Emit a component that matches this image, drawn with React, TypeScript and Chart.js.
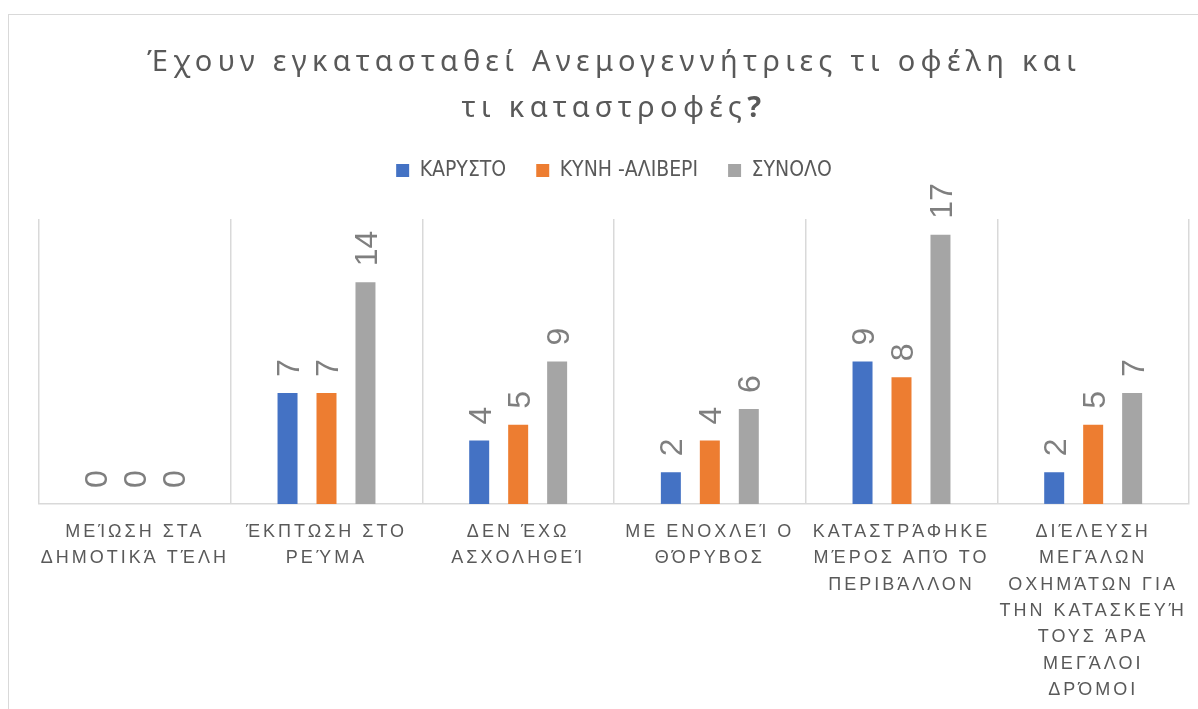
import React, { useEffect, useRef } from 'react';
import { Chart, registerables } from 'chart.js';

Chart.register(...registerables);

// ---- data ----
const categories: string[][] = [
  ['ΜΕΊΩΣΗ ΣΤΑ', 'ΔΗΜΟΤΙΚΆ ΤΈΛΗ'],
  ['ΈΚΠΤΩΣΗ ΣΤΟ', 'ΡΕΎΜΑ'],
  ['ΔΕΝ ΈΧΩ', 'ΑΣΧΟΛΗΘΕΊ'],
  ['ΜΕ ΕΝΟΧΛΕΊ Ο', 'ΘΌΡΥΒΟΣ'],
  ['ΚΑΤΑΣΤΡΆΦΗΚΕ', 'ΜΈΡΟΣ ΑΠΌ ΤΟ', 'ΠΕΡΙΒΆΛΛΟΝ'],
  ['ΔΙΈΛΕΥΣΗ', 'ΜΕΓΆΛΩΝ', 'ΟΧΗΜΆΤΩΝ ΓΙΑ', 'ΤΗΝ ΚΑΤΑΣΚΕΥΉ', 'ΤΟΥΣ ΆΡΑ', 'ΜΕΓΆΛΟΙ', 'ΔΡΌΜΟΙ'],
];
const karystos: number[] = [0, 7, 4, 2, 9, 2];
const kyniAliveri: number[] = [0, 7, 5, 4, 8, 5];
const synolo: number[] = [0, 14, 9, 6, 17, 7];
const seriesNames: string[] = ['ΚΑΡΥΣΤΟ', 'ΚΥΝΗ -ΑΛΙΒΕΡΙ', 'ΣΥΝΟΛΟ'];
const seriesColors: string[] = ['#4472C4', '#ED7D31', '#A5A5A5'];
const titleLines: string[] = ['Έχουν εγκατασταθεί Ανεμογεννήτριες τι οφέλη και', 'τι καταστροφές?'];
const yMin = 0;
const yMax = 18;

// ---- styles ----
const TEXT_COLOR = '#595959';
const LABEL_COLOR = '#7f7f7f';
const GRID_COLOR = '#d9d9d9';
const TITLE_FONT = '"Noto Sans", "Open Sans", sans-serif';
const TITLE_SIZE = 29;
const TITLE_LS = '5.3px';
const TITLE_LH = 46;
const TITLE_PAD_TOP = 23;
const LEGEND_FONT = '"DejaVu Sans Condensed", "Liberation Sans", sans-serif';
const AXIS_FONT = '"Liberation Sans", sans-serif';
const AXIS_LS = '3px';
const DATA_FONT = '"Liberation Sans", sans-serif';
const DATA_SIZE = 32;
const LEGEND_EXTRA = 28;

const customPlugin = {
  id: 'customLook',
  afterInit(chart: any) {
    const lg = chart.legend;
    if (lg && !lg.__patched) {
      const origFit = lg.fit;
      lg.fit = function () {
        origFit.call(this);
        this.height += LEGEND_EXTRA;
      };
      lg.__patched = true;
    }
    const tb = chart.titleBlock;
    if (tb && !tb.__patched) {
      tb.draw = function () {
        const ctx = this.ctx;
        ctx.save();
        ctx.fillStyle = TEXT_COLOR;
        ctx.textBaseline = 'alphabetic';
        ctx.textAlign = 'left';
        try { (ctx as any).letterSpacing = TITLE_LS; } catch (e) {}
        const cx = (this.left + this.right) / 2;
        const normal = `normal ${TITLE_SIZE}px ${TITLE_FONT}`;
        const bold = `bold ${TITLE_SIZE}px ${TITLE_FONT}`;
        titleLines.forEach((line, i) => {
          const baseY = this.top + TITLE_PAD_TOP + TITLE_LH * (i + 0.5) + TITLE_SIZE * 0.34;
          const hasQ = line.endsWith('?');
          const main = hasQ ? line.slice(0, -1) : line;
          ctx.font = normal;
          const w1 = ctx.measureText(main).width;
          let w2 = 0;
          if (hasQ) {
            ctx.font = bold;
            w2 = ctx.measureText('?').width;
          }
          const x = cx - (w1 + w2) / 2;
          ctx.font = normal;
          ctx.fillText(main, x, baseY);
          if (hasQ) {
            ctx.font = bold;
            ctx.fillText('?', x + w1, baseY);
          }
        });
        ctx.restore();
      };
      tb.__patched = true;
    }
  },
  beforeDraw(chart: any) {
    const xs = chart.scales.x;
    if (xs && !xs.__patched) {
      const origDrawLabels = xs.drawLabels;
      xs.drawLabels = function (area: any) {
        const ctx = this.ctx;
        ctx.save();
        try { (ctx as any).letterSpacing = AXIS_LS; } catch (e) {}
        origDrawLabels.call(this, area);
        ctx.restore();
      };
      xs.__patched = true;
    }
  },
  afterDatasetsDraw(chart: any) {
    const ctx = chart.ctx;
    ctx.save();
    ctx.font = `normal ${DATA_SIZE}px ${DATA_FONT}`;
    ctx.fillStyle = LABEL_COLOR;
    ctx.textAlign = 'left';
    ctx.textBaseline = 'alphabetic';
    const capH = DATA_SIZE * 0.716;
    chart.data.datasets.forEach((ds: any, i: number) => {
      const meta = chart.getDatasetMeta(i);
      meta.data.forEach((bar: any, j: number) => {
        const v = ds.data[j];
        ctx.save();
        ctx.translate(bar.x, bar.y - 16);
        ctx.rotate(-Math.PI / 2);
        ctx.fillText(String(v), 0, capH / 2);
        ctx.restore();
      });
    });
    ctx.restore();
  },
};

export default function App() {
  const canvasRef = useRef<HTMLCanvasElement | null>(null);

  useEffect(() => {
    document.documentElement.style.overflow = 'hidden';
    const canvas = canvasRef.current;
    if (!canvas) return;
    const seriesValues = [karystos, kyniAliveri, synolo];
    const chart = new Chart(canvas, {
      type: 'bar',
      data: {
        labels: categories,
        datasets: seriesNames.map((name, i) => ({
          label: name,
          data: seriesValues[i],
          backgroundColor: seriesColors[i],
          borderWidth: 0,
          barPercentage: 0.513,
          categoryPercentage: 0.61,
        })),
      },
      options: {
        animation: false,
        responsive: true,
        maintainAspectRatio: false,
        layout: { padding: { left: 30, right: 26, top: 0, bottom: 0 } },
        plugins: {
          title: {
            display: true,
            text: titleLines,
            color: TEXT_COLOR,
            font: { size: TITLE_SIZE, family: TITLE_FONT, weight: 'normal', lineHeight: `${TITLE_LH}px` },
            padding: { top: TITLE_PAD_TOP, bottom: 0 },
          },
          legend: {
            display: true,
            position: 'top',
            labels: {
              boxWidth: 13,
              boxHeight: 13,
              padding: 30,
              color: TEXT_COLOR,
              font: { size: 21, family: LEGEND_FONT },
            },
          },
          tooltip: { enabled: false },
        },
        scales: {
          x: {
            grid: { display: true, offset: true, color: GRID_COLOR, lineWidth: 1.5, drawTicks: false },
            border: { display: true, color: GRID_COLOR, width: 1.5 },
            ticks: {
              color: TEXT_COLOR,
              font: { size: 18, family: AXIS_FONT, lineHeight: '26.3px' },
              padding: 15,
              maxRotation: 0,
              minRotation: 0,
              autoSkip: false,
            },
          },
          y: { display: false, min: yMin, max: yMax },
        },
      },
      plugins: [customPlugin],
    });
    return () => chart.destroy();
  }, []);

  return (
    <div
      style={{
        position: 'fixed',
        left: 8,
        top: 14,
        width: 1206,
        height: 703,
        borderLeft: `1px solid ${GRID_COLOR}`,
        borderTop: `1px solid ${GRID_COLOR}`,
        background: '#fff',
      }}
    >
      <canvas ref={canvasRef} style={{ display: 'block' }} />
    </div>
  );
}
